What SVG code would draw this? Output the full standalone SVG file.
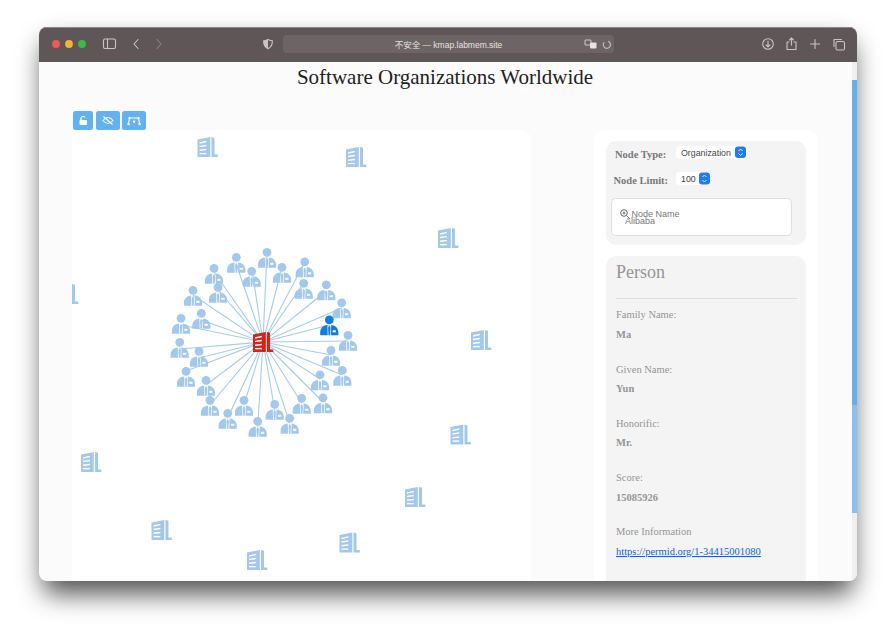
<svg xmlns="http://www.w3.org/2000/svg" width="893" height="631" viewBox="0 0 893 631">
<style>
.serif{font-family:"Liberation Serif","Times New Roman",serif}
.sans{font-family:"Liberation Sans",Arial,sans-serif}
.lb{font-size:10.5px;fill:#959595}
.vl{font-size:10.5px;font-weight:bold;fill:#959595}
.ctl{font-size:10.5px;font-weight:bold;fill:#787878}
.sel{font-size:8.8px;fill:#444}
.edge{stroke:#a6cbee;stroke-width:1.1;fill:none}
.tb{fill:none;stroke:#c9c5c5;stroke-width:1.1;stroke-linecap:round;stroke-linejoin:round}
.p{fill:#a3c8ee}
.o{fill:#a3c8ee}
.btn{fill:#62b1f3}
.bi{fill:none;stroke:#fff;stroke-width:1.2}
</style>
<defs>
<filter id="sh" x="-10%" y="-10%" width="120%" height="125%"><feGaussianBlur stdDeviation="13"/></filter>
<clipPath id="win"><rect x="39" y="27" width="818" height="554" rx="8"/></clipPath>
<clipPath id="graph"><rect x="72" y="130" width="459" height="451"/></clipPath>
<symbol id="bld" viewBox="0 0 20 20" overflow="visible">
<path d="M0 2.500L12.800 0V20H0Z"/>
<path d="M14 0L17 .8V17.400H20.300V20H14Z"/>
<g fill="#fff"><path d="M2 5.200L8.800 3.800V5.300L2 6.700Z"/><path d="M2 8.800L8.800 7.800V9.300L2 10.300Z"/><path d="M2 12.400L8.800 11.700V13.200L2 13.900Z"/><path d="M2 15.900H8.800V17.300H2Z"/></g>
</symbol>
<symbol id="per" viewBox="0 0 18 20" overflow="visible">
<circle cx="9" cy="4.300" r="4.400"/>
<path d="M.5 19.800C-.1 19.800 -.2 19 -.1 17C0 12.500 2.500 10 7.100 9.400L7.400 19.800Z"/>
<path d="M17.500 19.800C18.100 19.800 18.200 19 18.100 17C18 12.500 15.500 10 10.900 9.400L10.600 19.800Z"/>
<path d="M9 9.800L10.200 12L9.800 19.800H8.200L7.800 12Z"/>
<rect x="12.300" y="14.800" width="3.200" height="2" fill="#fff"/>
</symbol>
</defs>

<rect width="893" height="631" fill="#fff"/>
<rect x="43" y="42" width="810" height="552" rx="10" fill="#000" fill-opacity=".68" filter="url(#sh)"/>

<g id="window" clip-path="url(#win)">
<rect x="39" y="27" width="818" height="554" fill="#fbfbfb"/>
<rect x="39" y="27" width="818" height="35" fill="#5f5757"/>
<rect x="39" y="27" width="818" height="1" fill="#8d8686"/>
<rect x="852" y="62" width="5" height="519" fill="#efefef"/>
<rect x="852" y="80" width="5" height="325" fill="#62b1f3"/>
<rect x="852" y="405" width="5" height="108" fill="#86c1f2"/>
<rect x="72" y="130" width="459" height="460" rx="10" fill="#fff"/>
<rect x="594" y="130" width="224" height="460" rx="10" fill="#fff"/>
<rect x="606" y="141" width="200" height="104" rx="10" fill="#f4f4f4"/>
<rect x="606" y="256" width="200" height="340" rx="10" fill="#f4f4f4"/>
</g>

<g id="toolbar">
<circle cx="56" cy="44" r="3.900" fill="#f15a52"/>
<circle cx="69" cy="44" r="3.900" fill="#f5b52e"/>
<circle cx="82" cy="44" r="3.900" fill="#35c13f"/>
<rect x="103.500" y="39" width="12" height="9.500" rx="1.500" class="tb"/>
<path d="M107.500 39V48.500" class="tb"/>
<path d="M138 39.500L134 44L138 48.500" class="tb"/>
<path d="M157 39.500L161 44L157 48.500" class="tb" stroke-opacity=".4"/>
<path d="M268 39.500C265.800 40.500 264.500 40.800 263.600 40.800C263.600 45 264.800 47.300 268 48.700C271.200 47.300 272.400 45 272.400 40.800C271.500 40.800 270.200 40.500 268 39.500Z" class="tb"/>
<path d="M268 39.500C265.800 40.500 264.500 40.800 263.600 40.800C263.600 45 264.800 47.300 268 48.700Z" fill="#c9c5c5"/>
<rect x="283" y="35" width="331" height="18" rx="4" fill="#6d6565"/>
<text x="448.500" y="47.500" text-anchor="middle" font-size="8.500" fill="#e6e3e3" style="font-family:'Liberation Sans','Noto Sans CJK SC',sans-serif">不安全 — kmap.labmem.site</text>
<rect x="585" y="40" width="6" height="5" rx="1" class="tb" stroke-width=".8"/>
<rect x="590" y="42.500" width="6.500" height="6" rx="1" fill="#e6e3e3"/>
<path d="M608.500 41.500A3.600 3.600 0 1 1 604 42.500" class="tb" stroke-width=".9"/>
<circle cx="768" cy="44" r="5.300" class="tb"/>
<path d="M768 41V46.500M766 44.800L768 46.800L770 44.800" class="tb" stroke-width=".9"/>
<path d="M789 42H787V49.500H796V42H794M791.500 45V38M789.500 40L791.500 38L793.500 40" class="tb"/>
<path d="M815 39.500V48.500M810.500 44H819.500" class="tb"/>
<rect x="836" y="41.500" width="8.500" height="8.500" rx="1.500" class="tb"/>
<path d="M834 46.500V39.500H841.500" class="tb" stroke-width=".9"/>
</g>

<text id="title" x="445" y="84" text-anchor="middle" font-size="21" fill="#222" class="serif">Software Organizations Worldwide</text>

<g id="graph-buttons">
<g id="btn-lock"><rect x="73" y="111" width="20" height="19" rx="2.500" class="btn"/><rect x="79.500" y="120" width="7.500" height="5" rx="1" fill="#fff"/><path d="M81 120V118A2.100 2.100 0 0 1 85 117.600" class="bi" stroke-width="1"/></g>
<g id="btn-eye"><rect x="96" y="111" width="24" height="19" rx="2.500" class="btn"/><path d="M103 120.500C106 116.500 110 116.500 113 120.500C110 124.500 106 124.500 103 120.500Z" class="bi" stroke-width=".9" stroke-opacity=".85"/><path d="M103.500 116.500L112.500 124.500" class="bi" stroke-width="1"/></g>
<g id="btn-layout"><rect x="122" y="111" width="24" height="19" rx="2.500" class="btn"/><path d="M130 118H138M129.500 118L128.500 123.500M138.500 118L139.500 123.500" class="bi" stroke-width=".5"/><g fill="#fff"><rect x="128.500" y="117" width="2.200" height="2.200"/><rect x="137.300" y="117" width="2.200" height="2.200"/><rect x="127.500" y="123" width="2.200" height="2.200"/><rect x="138.500" y="123" width="2.200" height="2.200"/><rect x="133" y="120.500" width="2.200" height="2.200"/></g></g>
</g>

<g id="connectors" clip-path="url(#graph)">
<path class="edge" d="M263 342L236.300 264M263 342L267 252M263 342L214 272M263 342L251.700 268M263 342L282 267M263 342L304.700 262M263 342L303.700 283M263 342L218 290M263 342L326.300 291M263 342L193 295M263 342L341.700 308M263 342L201.300 320M263 342L181 325M263 342L179.700 349M263 342L199 358M263 342L348 341M263 342L331 355M263 342L186 371M263 342L342.300 375M263 342L320 379M263 342L206 385M263 342L210 405M263 342L301.700 403M263 342L323 402M263 342L244 405M263 342L274.700 410M263 342L227.700 418M263 342L257.700 427M263 342L289.700 423M263 342L329.300 325"/>
</g>

<g id="n-org-1" class="o"><use href="#bld" x="197.500" y="137" width="20" height="20"/></g>
<g id="n-org-2" class="o"><use href="#bld" x="346" y="147" width="20" height="20"/></g>
<g id="n-org-3" class="o"><use href="#bld" x="438" y="228" width="20" height="20"/></g>
<g id="n-org-4" class="o"><use href="#bld" x="471" y="330" width="20" height="20"/></g>
<g id="n-org-5" class="o"><use href="#bld" x="450.500" y="424.500" width="20" height="20"/></g>
<g id="n-org-6" class="o"><use href="#bld" x="405" y="487" width="20" height="20"/></g>
<g id="n-org-7" class="o"><use href="#bld" x="339.500" y="532.500" width="20" height="20"/></g>
<g id="n-org-8" class="o"><use href="#bld" x="247" y="550" width="20" height="20"/></g>
<g id="n-org-9" class="o"><use href="#bld" x="151.500" y="520" width="20" height="20"/></g>
<g id="n-org-10" class="o"><use href="#bld" x="81" y="452" width="20" height="20"/></g>
<g id="n-org-11" class="o" clip-path="url(#graph)"><use href="#bld" x="58" y="284" width="20" height="20"/></g>
<g id="n-center" fill="#d9220f"><use href="#bld" x="253" y="332" width="20" height="20"/></g>

<g id="persons" class="p">
<use id="p1" href="#per" x="227.300" y="253" width="18" height="20"/>
<use id="p2" href="#per" x="258" y="248" width="18" height="20"/>
<use id="p3" href="#per" x="205" y="264" width="18" height="20"/>
<use id="p4" href="#per" x="242.700" y="267" width="18" height="20"/>
<use id="p5" href="#per" x="273" y="263" width="18" height="20"/>
<use id="p6" href="#per" x="295.700" y="257.500" width="18" height="20"/>
<use id="p7" href="#per" x="294.700" y="279" width="18" height="20"/>
<use id="p8" href="#per" x="209" y="283" width="18" height="20"/>
<use id="p9" href="#per" x="317.300" y="280.500" width="18" height="20"/>
<use id="p10" href="#per" x="184" y="286" width="18" height="20"/>
<use id="p11" href="#per" x="332.700" y="298.500" width="18" height="20"/>
<use id="p12" href="#per" x="192.300" y="309" width="18" height="20"/>
<use id="p13" href="#per" x="172" y="314" width="18" height="20"/>
<use id="p14" href="#per" x="170.700" y="338" width="18" height="20"/>
<use id="p15" href="#per" x="190" y="347" width="18" height="20"/>
<use id="p16" href="#per" x="339" y="331" width="18" height="20"/>
<use id="p17" href="#per" x="322" y="346" width="18" height="20"/>
<use id="p18" href="#per" x="177" y="367" width="18" height="20"/>
<use id="p19" href="#per" x="333.300" y="366" width="18" height="20"/>
<use id="p20" href="#per" x="311" y="370.500" width="18" height="20"/>
<use id="p21" href="#per" x="197" y="376" width="18" height="20"/>
<use id="p22" href="#per" x="201" y="396" width="18" height="20"/>
<use id="p23" href="#per" x="292.700" y="394" width="18" height="20"/>
<use id="p24" href="#per" x="314" y="393.500" width="18" height="20"/>
<use id="p25" href="#per" x="235" y="396" width="18" height="20"/>
<use id="p26" href="#per" x="265.700" y="400" width="18" height="20"/>
<use id="p27" href="#per" x="218.700" y="409" width="18" height="20"/>
<use id="p28" href="#per" x="248.700" y="417" width="18" height="20"/>
<use id="p29" href="#per" x="280.700" y="414" width="18" height="20"/>
</g>
<g id="p-selected" fill="#0f7ee0"><use href="#per" x="320.300" y="315.500" width="18" height="20"/></g>

<g id="controls">
<text x="615" y="157.500" class="serif ctl">Node Type:</text>
<rect x="676" y="146" width="71" height="13" rx="3.500" fill="#fff"/>
<text x="681" y="156" class="sans sel">Organization</text>
<rect x="735" y="146.500" width="11" height="11.500" rx="3" fill="#1f7bf2"/>
<path d="M738.500 151L740.500 149L742.500 151M738.500 153.500L740.500 155.500L742.500 153.500" fill="none" stroke="#fff" stroke-width=".9"/>
<text x="613.500" y="183.500" class="serif ctl">Node Limit:</text>
<rect x="676" y="172" width="35" height="13" rx="3.500" fill="#fff"/>
<text x="681" y="182" class="sans sel">100</text>
<rect x="699" y="172.500" width="11" height="12" rx="3" fill="#1f7bf2"/>
<path d="M702.500 177L704.500 175L706.500 177M702.500 180L704.500 182L706.500 180" fill="none" stroke="#fff" stroke-width=".9"/>
<rect x="611.500" y="198.500" width="180" height="37" rx="4" fill="#fff" stroke="#dedede"/>
<circle cx="624" cy="213" r="3.300" fill="none" stroke="#666" stroke-width="1"/>
<path d="M626.500 215.500L630 219M622.500 213H625.500M624 211.500V214.500" fill="none" stroke="#666" stroke-width=".9"/>
<text x="631.500" y="217" class="sans" font-size="9" fill="#777">Node Name</text>
<text x="625" y="224" class="sans" font-size="9" fill="#777">Alibaba</text>
</g>

<g id="details" clip-path="url(#win)">
<text x="616" y="277.500" class="serif" font-size="18" fill="#959595">Person</text>
<path d="M616 298.500H797" stroke="#dedede" fill="none"/>
<text x="616" y="318" class="serif lb">Family Name:</text>
<text x="616" y="338" class="serif vl">Ma</text>
<text x="616" y="372.500" class="serif lb">Given Name:</text>
<text x="616" y="392" class="serif vl">Yun</text>
<text x="616" y="426.500" class="serif lb">Honorific:</text>
<text x="616" y="446" class="serif vl">Mr.</text>
<text x="616" y="481" class="serif lb">Score:</text>
<text x="616" y="500.500" class="serif vl">15085926</text>
<text x="616" y="535" class="serif lb">More Information</text>
<text x="616" y="555" class="serif" font-size="10.500" fill="#0a5ff0" text-decoration="underline">https://permid.org/1-34415001080</text>
</g>
</svg>
